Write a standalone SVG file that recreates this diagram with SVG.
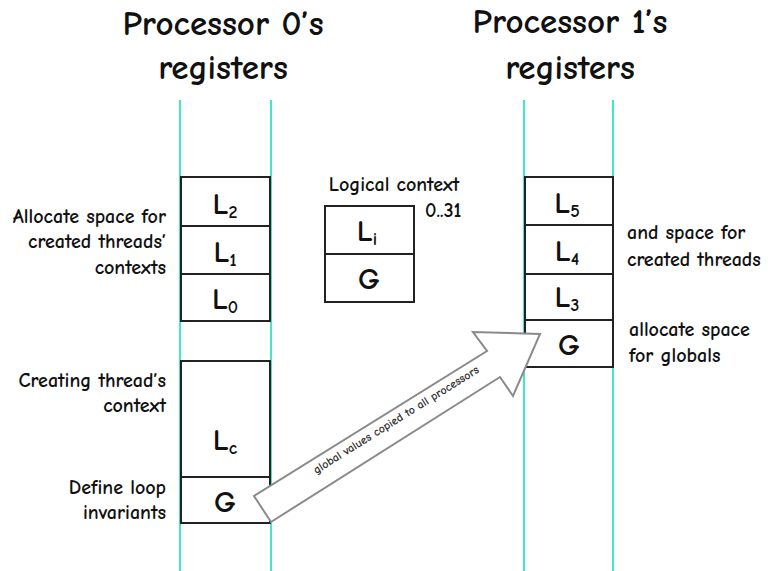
<svg xmlns="http://www.w3.org/2000/svg" width="773" height="571" viewBox="0 0 773 571">
  <style>
    .lane { stroke: #3ee8c8; stroke-width: 2; }
    .reg { fill: #ffffff; stroke: #222222; stroke-width: 2; }
    .title { font-family: "Comic Neue", "Liberation Sans", sans-serif; font-size: 35px; font-weight: bold; fill: #111; text-anchor: middle; }
    .note { font-family: "Comic Neue", "Liberation Sans", sans-serif; font-size: 20px; font-weight: bold; fill: #111; }
    .rl { font-family: "Comic Neue", "Liberation Sans", sans-serif; font-size: 31px; font-weight: bold; fill: #111; text-anchor: middle; }
    .sub { font-size: 18px; }
    .arrow { fill: #ffffff; stroke: #8a8a8a; stroke-width: 2; stroke-linejoin: miter; }
    .alabel { font-family: "Comic Neue", "Liberation Sans", sans-serif; font-size: 12px; font-weight: bold; fill: #333; text-anchor: middle; }
  </style>
  <rect width="773" height="571" fill="#ffffff"/>

  <!-- column headings -->
  <g id="heading-p0">
    <text class="title" x="223" y="35">Processor 0’s</text>
    <text class="title" x="223" y="79">registers</text>
  </g>
  <g id="heading-p1">
    <text class="title" x="570" y="33">Processor 1’s</text>
    <text class="title" x="570" y="79">registers</text>
  </g>

  <!-- register file boundaries -->
  <g id="lanes">
    <line class="lane" x1="180" y1="100" x2="180" y2="571"/>
    <line class="lane" x1="271" y1="100" x2="271" y2="571"/>
    <line class="lane" x1="524" y1="100" x2="524" y2="571"/>
    <line class="lane" x1="613" y1="100" x2="613" y2="571"/>
  </g>

  <!-- processor 0 registers -->
  <g id="p0-L2">
    <rect class="reg" x="181" y="177" width="89" height="49"/>
    <text class="rl" x="225" y="214">L<tspan class="sub" dy="4">2</tspan></text>
  </g>
  <g id="p0-L1">
    <rect class="reg" x="181" y="226" width="89" height="48"/>
    <text class="rl" x="225" y="262">L<tspan class="sub" dy="4">1</tspan></text>
  </g>
  <g id="p0-L0">
    <rect class="reg" x="181" y="274" width="89" height="47"/>
    <text class="rl" x="225" y="309">L<tspan class="sub" dy="4">0</tspan></text>
  </g>
  <g id="p0-Lc">
    <rect class="reg" x="181" y="361" width="89" height="116"/>
    <text class="rl" x="225" y="450">L<tspan class="sub" dy="4">c</tspan></text>
  </g>
  <g id="p0-G">
    <rect class="reg" x="181" y="477" width="89" height="46"/>
    <text class="rl" x="225" y="512">G</text>
  </g>

  <!-- logical context -->
  <g id="logical-context">
    <text class="note" x="394" y="191" text-anchor="middle">Logical context</text>
    <text class="note" x="425" y="217">0..31</text>
    <rect class="reg" x="325" y="206" width="89" height="48"/>
    <text class="rl" x="367" y="241">L<tspan class="sub" dy="4">i</tspan></text>
    <rect class="reg" x="325" y="254" width="89" height="48"/>
    <text class="rl" x="369" y="289">G</text>
  </g>

  <!-- processor 1 registers -->
  <g id="p1-L5">
    <rect class="reg" x="525" y="177" width="88" height="48"/>
    <text class="rl" x="567" y="213">L<tspan class="sub" dy="4">5</tspan></text>
  </g>
  <g id="p1-L4">
    <rect class="reg" x="525" y="225" width="88" height="49"/>
    <text class="rl" x="567" y="261">L<tspan class="sub" dy="4">4</tspan></text>
  </g>
  <g id="p1-L3">
    <rect class="reg" x="525" y="274" width="88" height="46"/>
    <text class="rl" x="567" y="307">L<tspan class="sub" dy="4">3</tspan></text>
  </g>
  <g id="p1-G">
    <rect class="reg" x="525" y="320" width="88" height="47"/>
    <text class="rl" x="569" y="355">G</text>
  </g>

  <!-- annotations -->
  <g id="notes-left" text-anchor="end">
    <text class="note" x="166" y="223">Allocate space for</text>
    <text class="note" x="166" y="248">created threads’</text>
    <text class="note" x="166" y="274">contexts</text>
    <text class="note" x="166" y="387">Creating thread’s</text>
    <text class="note" x="166" y="412">context</text>
    <text class="note" x="166" y="494">Define loop</text>
    <text class="note" x="166" y="519">invariants</text>
  </g>
  <g id="notes-right">
    <text class="note" x="627" y="239">and space for</text>
    <text class="note" x="627" y="266">created threads</text>
    <text class="note" x="629" y="336">allocate space</text>
    <text class="note" x="629" y="362">for globals</text>
  </g>

  <!-- block arrow: globals broadcast -->
  <g id="connectors">
    <polygon class="arrow" points="254,496 487,351 473,332 540,334 513,396 500,377 271,522"/>
    <text class="alabel" transform="translate(398,423) rotate(-32)">global values copied to all processors</text>
  </g>
</svg>
